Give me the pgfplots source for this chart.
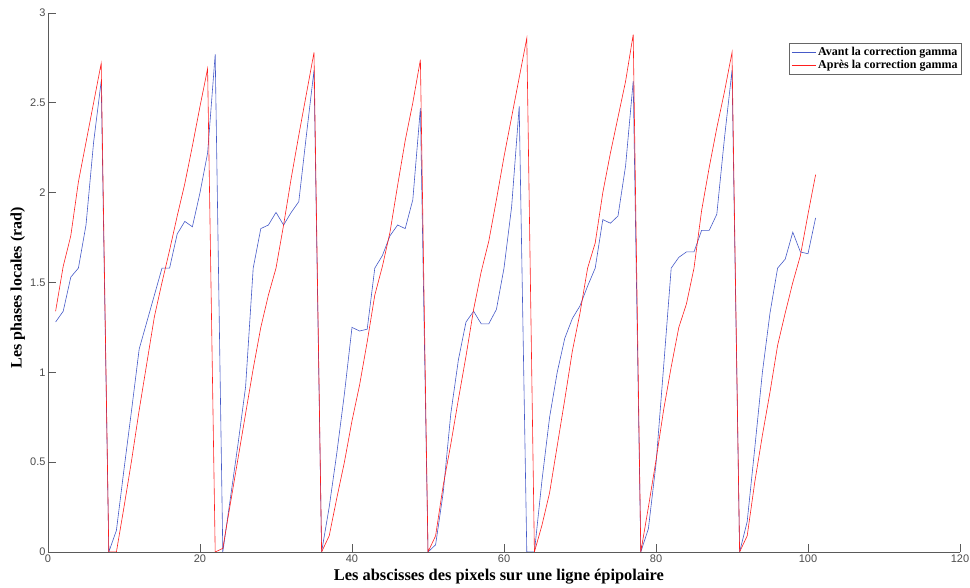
\documentclass[border=0pt]{standalone}
\usepackage{fontspec}
\setmainfont{Liberation Serif}
\newfontfamily\ticksans{Liberation Sans}
\usepackage{pgfplots}
\pgfplotsset{compat=1.18}
\definecolor{myblue}{RGB}{70,90,200}
\definecolor{myred}{RGB}{255,30,30}
\definecolor{axgray}{RGB}{90,90,90}
\pgfplotstableread{
x y
1 1.28
2 1.34
3 1.53
4 1.58
5 1.82
6 2.28
7 2.62
8 0
9 0.12
10 0.46
11 0.79
12 1.13
13 1.28
14 1.43
15 1.58
16 1.58
17 1.77
18 1.84
19 1.81
20 2.0
21 2.22
22 2.77
23 0
24 0.3
25 0.6
26 0.92
27 1.58
28 1.80
29 1.82
30 1.89
31 1.82
32 1.89
33 1.95
34 2.32
35 2.68
36 0
37 0.25
38 0.55
39 0.88
40 1.25
41 1.23
42 1.24
43 1.58
44 1.65
45 1.76
46 1.82
47 1.80
48 1.96
49 2.47
50 0
51 0.04
52 0.33
53 0.77
54 1.07
55 1.28
56 1.34
57 1.27
58 1.27
59 1.35
60 1.58
61 1.92
62 2.48
63 0
64 0
65 0.4
66 0.75
67 1.0
68 1.19
69 1.30
70 1.37
71 1.48
72 1.58
73 1.85
74 1.83
75 1.87
76 2.15
77 2.62
78 0
79 0.13
80 0.49
81 1.03
82 1.58
83 1.64
84 1.67
85 1.67
86 1.79
87 1.79
88 1.88
89 2.3
90 2.68
91 0
92 0.17
93 0.58
94 1.0
95 1.33
96 1.58
97 1.63
98 1.78
99 1.67
100 1.66
101 1.86
}\avant
\pgfplotstableread{
x y
1 1.34
2 1.59
3 1.76
4 2.06
5 2.28
6 2.50
7 2.72
8 0
9 0
10 0.25
11 0.51
12 0.79
13 1.05
14 1.31
15 1.50
16 1.68
17 1.87
18 2.05
19 2.26
20 2.48
21 2.69
22 0
23 0.02
24 0.27
25 0.52
26 0.77
27 1.02
28 1.25
29 1.43
30 1.58
31 1.82
32 2.08
33 2.32
34 2.55
35 2.78
36 0
37 0.09
38 0.3
39 0.5
40 0.73
41 0.93
42 1.17
43 1.43
44 1.59
45 1.78
46 2.04
47 2.29
48 2.50
49 2.74
50 0
51 0.09
52 0.37
53 0.6
54 0.85
55 1.09
56 1.35
57 1.56
58 1.73
59 1.96
60 2.2
61 2.42
62 2.64
63 2.86
64 0
65 0.15
66 0.33
67 0.59
68 0.85
69 1.12
70 1.33
71 1.58
72 1.72
73 2.0
74 2.22
75 2.42
76 2.62
77 2.88
78 0
79 0.25
80 0.51
81 0.79
82 1.03
83 1.25
84 1.38
85 1.58
86 1.9
87 2.14
88 2.36
89 2.56
90 2.78
91 0
92 0.09
93 0.39
94 0.65
95 0.89
96 1.15
97 1.33
98 1.5
99 1.65
100 1.88
101 2.1
}\apres
\begin{document}
\begin{tikzpicture}
\path[use as bounding box] (-48pt,-36pt) rectangle (922pt,552pt);
\begin{axis}[
  at={(0pt,0pt)}, anchor=south west,
  scale only axis, width=912pt, height=539pt,
  xmin=0, xmax=120, ymin=0, ymax=3,
  xtick={0,20,...,120},
  ytick={0,0.5,...,3},
  axis x line*=bottom, axis y line*=left,
  every outer x axis line/.append style={-},
  every outer y axis line/.append style={-},
  axis line style={draw=axgray, line width=0.8pt},
  tick style={draw=axgray, line width=0.8pt},
  tick align=inside,
  major tick length=8pt,
  /pgf/number format/assume math mode=true,
  tick label style={font=\ticksans\fontsize{11}{11}\selectfont, text=black!70},
  xticklabel style={yshift=1pt},
  yticklabel style={xshift=1pt},
  xlabel={\bfseries Les abscisses des pixels sur une ligne épipolaire},
  ylabel={\bfseries Les phases locales (rad)},
  xlabel style={font=\fontsize{16.4}{16.4}\selectfont, at={(axis description cs:0.4945,-0.046)}, anchor=center},
  ylabel style={font=\fontsize{16}{16}\selectfont, at={(axis description cs:-0.033,0.49)}, anchor=center},
  legend cell align=left,
  legend style={at={(1.002,0.944)}, anchor=north east, draw=black!60,
    font=\bfseries\fontsize{12}{12}\selectfont, inner sep=2pt,
    row sep=-1pt},
  legend image code/.code={\draw[#1] (0pt,0pt) -- (24pt,0pt);},
]
\addplot[myblue, line width=0.6pt] table[x=x,y=y] {\avant};
\addlegendentry{Avant la correction gamma}
\addplot[myred, line width=0.6pt] table[x=x,y=y] {\apres};
\addlegendentry{Après la correction gamma}
\end{axis}
\end{tikzpicture}
\end{document}
